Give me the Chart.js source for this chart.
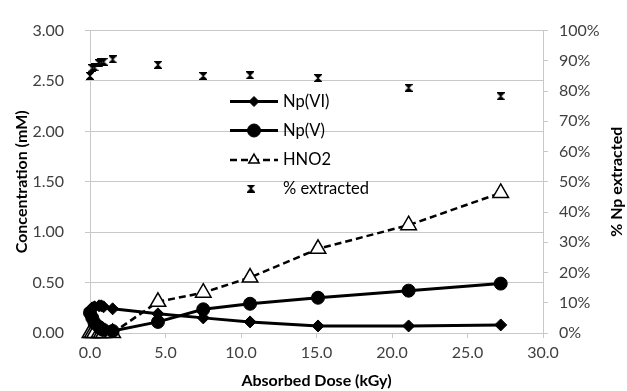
<!DOCTYPE html>
<html>
<head>
<meta charset="utf-8">
<script src="https://cdn.jsdelivr.net/npm/chart.js@4/dist/chart.umd.min.js"></script>
<style>
html,body{margin:0;padding:0;background:#fff;}
#wrap{width:627px;height:391px;}
</style>
</head>
<body>
<div id="wrap"><canvas id="c" width="627" height="391"></canvas></div>
<script>
// Data
const dose = [0, 0.15, 0.3, 0.6, 0.75, 0.9, 1.5, 4.5, 7.5, 10.6, 15.1, 21.1, 27.2];
const npVI = [0.23, 0.25, 0.26, 0.27, 0.27, 0.26, 0.24, 0.19, 0.15, 0.11, 0.07, 0.07, 0.08];
const npV = [0.20, 0.15, 0.10, 0.06, 0.04, 0.03, 0.02, 0.11, 0.235, 0.29, 0.35, 0.42, 0.49];
const hno2 = [0, 0, 0, 0, 0, 0, 0, 0.31, 0.40, 0.55, 0.835, 1.07, 1.39];
const pctExtracted = [85.0, 87.6, 87.8, 89.2, 89.5, 89.7, 90.5, 88.7, 85.0, 85.2, 84.3, 81.1, 78.3];
const seriesNames = ['Np(VI)', 'Np(V)', 'HNO2', '% extracted'];
const xTitle = 'Absorbed Dose (kGy)';
const yTitle = 'Concentration (mM)';
const y1Title = '% Np extracted';

const FONT = 'Lato, "Open Sans", sans-serif';
const pts = arr => dose.map((d, i) => ({x: d, y: arr[i]}));

// hourglass-like marker for "% extracted"
const hg = document.createElement('canvas');
hg.width = 8; hg.height = 8;
(function () {
  const c = hg.getContext('2d');
  c.fillStyle = '#000';
  c.strokeStyle = '#000';
  c.lineWidth = 1.2;
  c.beginPath();
  c.moveTo(0.5, 0.5); c.lineTo(7.5, 0.5); c.lineTo(4, 4); c.closePath();
  c.moveTo(0.5, 7.5); c.lineTo(7.5, 7.5); c.lineTo(4, 4); c.closePath();
  c.fill(); c.stroke();
})();

const gridCol = '#c8c8c8';
const tickFont = {family: FONT, size: 16};
const titleFont = {family: FONT, size: 16, weight: 'bold'};

new Chart(document.getElementById('c'), {
  type: 'scatter',
  data: {
    datasets: [
      {label: seriesNames[0], data: pts(npVI), showLine: true, borderColor: '#000', backgroundColor: '#000', order: 2, clip: false,
       borderWidth: 3, pointStyle: 'rectRot', pointRadius: 6, legendRadius: 5, pointBorderWidth: 1,
       pointBackgroundColor: '#000', pointBorderColor: '#000', yAxisID: 'y'},
      {label: seriesNames[1], data: pts(npV), showLine: true, borderColor: '#000', backgroundColor: '#000', order: 1, clip: false,
       borderWidth: 3, pointStyle: 'circle', pointRadius: 6.5, legendRadius: 6.5, pointBorderWidth: 1,
       pointBackgroundColor: '#000', pointBorderColor: '#000', yAxisID: 'y'},
      {label: seriesNames[2], data: pts(hno2), showLine: true, borderColor: '#000', backgroundColor: '#fff', order: 3, clip: false,
       borderWidth: 2.5, borderDash: [7, 4], pointStyle: 'triangle', pointRadius: 9, legendRadius: 6, pointBorderWidth: 1.5,
       pointBackgroundColor: '#fff', pointBorderColor: '#000', yAxisID: 'y'},
      {label: seriesNames[3], data: pts(pctExtracted), showLine: false, borderColor: '#000', backgroundColor: '#000', order: 0, clip: false,
       borderWidth: 1, pointStyle: hg, pointRadius: 4, legendRadius: 4, pointBorderWidth: 1,
       pointBackgroundColor: '#000', pointBorderColor: '#000', yAxisID: 'y1'}
    ]
  },
  options: {
    responsive: false,
    animation: false,
    layout: {padding: {top: 18, left: 0, right: 0, bottom: 0}},
    plugins: {legend: {display: false}, tooltip: {enabled: false}},
    scales: {
      x: {
        type: 'linear', position: 'bottom', min: 0, max: 30,
        ticks: {stepSize: 5, callback: v => v.toFixed(1), color: '#404040', font: tickFont, padding: 5, maxRotation: 0},
        grid: {drawOnChartArea: false, drawTicks: true, tickLength: 5, color: gridCol},
        border: {color: gridCol, width: 1},
        title: {display: true, text: xTitle, color: '#000', font: titleFont, padding: {top: 4, bottom: 1}},
        afterFit: s => { s.height = 58; }
      },
      y: {
        position: 'left', min: 0, max: 3,
        ticks: {stepSize: 0.5, callback: v => v.toFixed(2), color: '#404040', font: tickFont, padding: 21},
        grid: {color: gridCol, tickLength: 5},
        border: {color: gridCol, width: 1},
        title: {display: true, text: yTitle, color: '#000', font: titleFont, padding: {top: 12, bottom: 0}},
        afterFit: s => { s.width = 90; }
      },
      y1: {
        position: 'right', min: 0, max: 100,
        ticks: {stepSize: 10, callback: v => v + '%', color: '#404040', font: tickFont, padding: 11},
        grid: {drawOnChartArea: false, tickLength: 5, color: gridCol},
        border: {color: gridCol, width: 1},
        title: {display: false},
        afterFit: s => { s.width = 84; }
      }
    }
  },
  plugins: [{
    id: 'inLegend',
    afterDraw(chart) {
      const ctx = chart.ctx;
      ctx.save();
      const ds = chart.data.datasets;
      const rows = [101.5, 130.5, 160, 188.5];
      const x0 = 230, x1 = 278, tx = 283;
      ds.forEach((d, i) => {
        const y = rows[i];
        if (d.showLine !== false) {
          ctx.beginPath();
          ctx.strokeStyle = d.borderColor;
          ctx.lineWidth = d.borderWidth;
          ctx.setLineDash(d.borderDash || []);
          ctx.moveTo(x0, y); ctx.lineTo(x1, y); ctx.stroke();
          ctx.setLineDash([]);
        }
        ctx.fillStyle = d.pointBackgroundColor;
        ctx.strokeStyle = d.pointBorderColor;
        ctx.lineWidth = d.pointBorderWidth;
        const mx = d.showLine === false ? 251 : (x0 + x1) / 2;
        Chart.helpers.drawPoint(ctx, {pointStyle: d.pointStyle, radius: d.legendRadius, borderWidth: d.pointBorderWidth, rotation: 0}, mx, y);
        ctx.fillStyle = '#000';
        ctx.font = '16.5px ' + FONT;
        ctx.textBaseline = 'middle';
        ctx.textAlign = 'left';
        ctx.fillText(d.label, tx, y);
      });
      ctx.translate(617, (chart.chartArea.top + chart.chartArea.bottom) / 2);
      ctx.rotate(-Math.PI / 2);
      ctx.font = 'bold 16px ' + FONT;
      ctx.textAlign = 'center';
      ctx.textBaseline = 'middle';
      ctx.fillStyle = '#000';
      ctx.fillText(y1Title, 0, 0);
      ctx.restore();
    }
  }]
});
</script>
</body>
</html>
